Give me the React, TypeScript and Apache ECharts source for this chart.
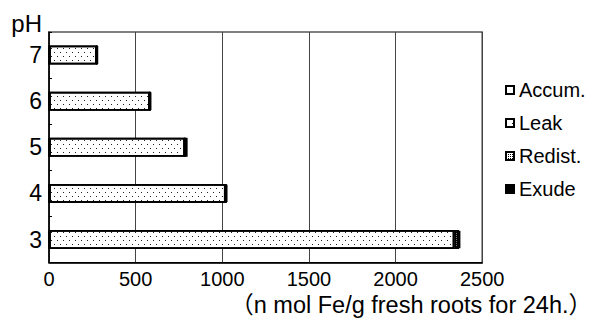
import React, { useEffect, useRef } from "react";
import * as echarts from "echarts";

const categories = ["3", "4", "5", "6", "7"];
const accum = [0, 0, 0, 0, 0];
const leak = [2340, 1020, 785, 582, 276];
const redist = [25, 0, 0, 0, 0];
const exude = [8, 10, 15, 8, 6];
const xTicks = [0, 500, 1000, 1500, 2000, 2500];

const FONT = "Liberation Sans, Arial, 'Noto Sans CJK JP', sans-serif";

export default function App() {
  const ref = useRef<HTMLDivElement>(null);
  useEffect(() => {
    const chart = echarts.init(ref.current!, null, { renderer: "svg" });
    const border = { borderColor: "#000", borderWidth: 1.8 };
    chart.setOption({
      animation: false,
      backgroundColor: "#fff",
      textStyle: { fontFamily: FONT, color: "#000" },
      grid: {
        left: 49, top: 32, width: 443, height: 231,
        show: true, borderColor: "#000", borderWidth: 1.2, backgroundColor: "transparent",
      },
      legend: {
        orient: "vertical", left: 505, top: 80, itemGap: 13, padding: 0,
        itemWidth: 8, itemHeight: 8, icon: "rect",
        textStyle: { fontSize: 20, color: "#000", fontFamily: FONT },
        data: ["Accum.", "Leak", "Redist.", "Exude"],
      },
      xAxis: {
        type: "value", min: xTicks[0], max: xTicks[xTicks.length - 1], interval: 500,
        axisLine: { show: true, lineStyle: { color: "#000", width: 1.5 } },
        axisTick: { show: false },
        splitLine: { show: true, lineStyle: { color: "#444", width: 1 } },
        axisLabel: { fontSize: 20, color: "#000", margin: 6, fontFamily: FONT, formatter: (v: number) => String(v) },
        name: "（n mol Fe/g fresh roots for 24h.）",
        nameLocation: "middle", nameGap: 29,
        nameTextStyle: { fontSize: 23.5, color: "#000", padding: [0, 0, 0, 291], fontFamily: FONT },
      },
      yAxis: {
        type: "category", data: categories,
        axisLine: { show: true, lineStyle: { color: "#000", width: 1.5 } },
        axisTick: { show: true, inside: true, length: 3, lineStyle: { color: "#000" } },
        axisLabel: { fontSize: 23, color: "#000", margin: 7, fontFamily: FONT },
        name: "pH", nameLocation: "end", nameGap: -3,
        nameTextStyle: { fontSize: 24, color: "#000", align: "right", padding: [0, 7, 0, 0], fontFamily: FONT },
      },
      series: [
        {
          name: "Accum.", type: "bar", stack: "t", data: accum, barWidth: 19,
          itemStyle: { color: "#fff", ...border },
        },
        {
          name: "Leak", type: "bar", stack: "t", data: leak, barWidth: 19,
          itemStyle: {
            color: "#fff", ...border,
            decal: { symbol: "rect", symbolSize: 1, color: "#222", backgroundColor: "#fff",
              dashArrayX: [[1, 5], [0, 3, 1, 2]], dashArrayY: [1, 3] },
          },
        },
        {
          name: "Redist.", type: "bar", stack: "t", data: redist, barWidth: 19,
          itemStyle: {
            color: "#fff", ...border,
            decal: { symbol: "rect", symbolSize: 1, color: "#000", backgroundColor: "#fff",
              dashArrayX: [1, 1], dashArrayY: [1, 1] },
          },
        },
        {
          name: "Exude", type: "bar", stack: "t", data: exude, barWidth: 19,
          itemStyle: { color: "#000", ...border },
        },
      ],
    });
    return () => chart.dispose();
  }, []);
  return (
    <div
      ref={ref}
      style={{ position: "fixed", left: 0, top: 0, width: 595, height: 322, overflow: "hidden" }}
    />
  );
}
